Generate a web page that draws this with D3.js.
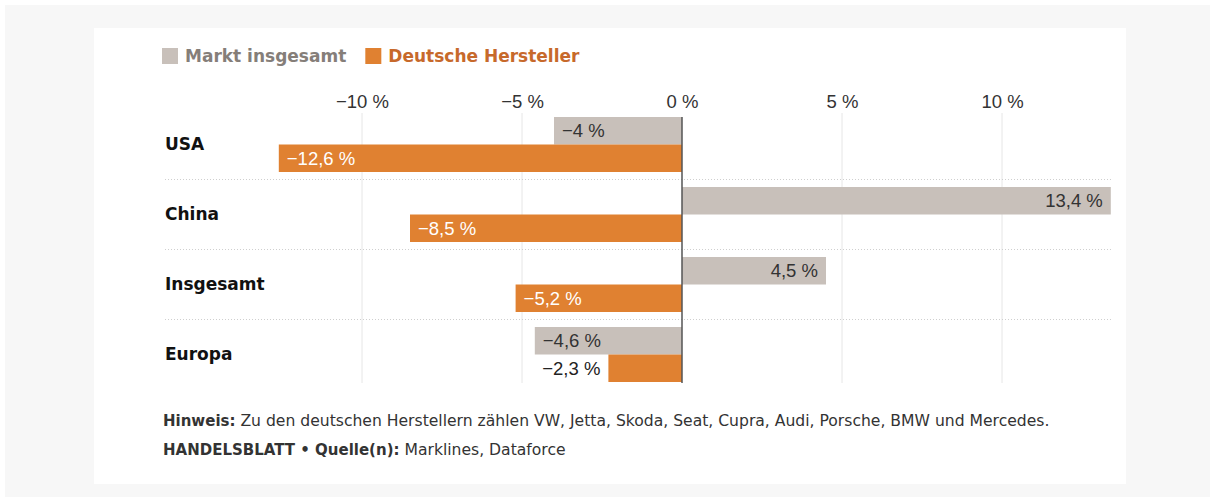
<!DOCTYPE html>
<html><head><meta charset="utf-8">
<script src="https://cdn.jsdelivr.net/npm/d3@7"></script>
<style>
html,body{margin:0;padding:0;background:#fff;}
</style></head>
<body>
<svg id="c" width="1210" height="497"></svg>
<script>
const categories = ["USA", "China", "Insgesamt", "Europa"];
const seriesNames = ["Markt insgesamt", "Deutsche Hersteller"];
const marktValues = [-4, 13.4, 4.5, -4.6];
const deutscheValues = [-12.6, -8.5, -5.2, -2.3];
const tickValues = [-10, -5, 0, 5, 10];
const tickLabels = ["\u221210 %", "\u22125 %", "0 %", "5 %", "10 %"];
const noteBold = "Hinweis:";
const noteText = " Zu den deutschen Herstellern zählen VW, Jetta, Skoda, Seat, Cupra, Audi, Porsche, BMW und Mercedes.";
const sourceBold = "HANDELSBLATT \u2022 Quelle(n):";
const sourceText = " Marklines, Dataforce";

const colors = ["#c8c0ba", "#e08131"];
const legendTextColors = ["#857e79", "#c7692b"];
const boldFont = "'DejaVu Sans', Verdana, sans-serif";
const regFont = "'Liberation Sans', Arial, sans-serif";

const fmt = v => (v < 0 ? "\u2212" : "") + String(Math.abs(v)).replace(".", ",") + " %";

const svg = d3.select("#c");
svg.append("rect").attr("x", 5).attr("y", 5).attr("width", 1205).attr("height", 492).attr("fill", "#f7f7f7");
svg.append("rect").attr("x", 94).attr("y", 28).attr("width", 1032).attr("height", 456).attr("fill", "#fff");

const allVals = marktValues.concat(deutscheValues);
const x = d3.scaleLinear().domain(d3.extent(allVals)).range([278.8, 1110.8]);
const y = d3.scaleBand().domain(categories).range([117, 382]).paddingInner(15/70).paddingOuter(0);
const ys = d3.scaleBand().domain(seriesNames).range([0, y.bandwidth()]);

// gridlines
svg.append("g").selectAll("line").data(tickValues.filter(t => t !== 0)).join("line")
  .attr("x1", d => x(d)).attr("x2", d => x(d))
  .attr("y1", 113).attr("y2", 383)
  .attr("stroke", "#e6e6e6").attr("stroke-width", 1);

// separators
const seps = categories.slice(1).map(c => y(c) - (y.step() - y.bandwidth()) / 2);
svg.append("g").selectAll("line").data(seps).join("line")
  .attr("x1", 165).attr("x2", 1111)
  .attr("y1", d => d).attr("y2", d => d)
  .attr("stroke", "#cfcfcf").attr("stroke-width", 1).attr("stroke-dasharray", "1,2");

// axis
const axis = d3.axisTop(x).tickValues(tickValues).tickFormat((d, i) => tickLabels[i]).tickSize(0).tickPadding(0);
const ag = svg.append("g").attr("transform", "translate(0,108)").call(axis);
ag.select(".domain").remove();
ag.selectAll("text").attr("font-size", 18.5).attr("fill", "#333").style("font-family", regFont);

// data rows
const rows = [];
categories.forEach((c, i) => {
  rows.push({cat: c, s: 0, v: marktValues[i]});
  rows.push({cat: c, s: 1, v: deutscheValues[i]});
});

svg.append("g").selectAll("rect").data(rows).join("rect")
  .attr("x", d => Math.min(x(0), x(d.v)))
  .attr("width", d => Math.abs(x(d.v) - x(0)))
  .attr("y", d => y(d.cat) + ys(seriesNames[d.s]))
  .attr("height", ys.bandwidth())
  .attr("fill", d => colors[d.s]);

// value labels
const pad = 8;
const lbl = svg.append("g").selectAll("text").data(rows).join("text")
  .attr("font-size", 18.5).style("font-family", regFont)
  .attr("dy", "0.35em")
  .attr("y", d => y(d.cat) + ys(seriesNames[d.s]) + ys.bandwidth() / 2)
  .text(d => fmt(d.v));
lbl.each(function(d) {
  const w = this.getComputedTextLength();
  const barW = Math.abs(x(d.v) - x(0));
  const inside = w + 3 * pad <= barW;
  const t = d3.select(this);
  const fill = d.s === 0 ? "#333" : (inside ? "#fff" : "#222");
  t.attr("fill", fill);
  if (d.v < 0) {
    if (inside) t.attr("x", x(d.v) + pad).attr("text-anchor", "start");
    else t.attr("x", x(d.v) - pad).attr("text-anchor", "end");
  } else {
    if (inside) t.attr("x", x(d.v) - pad).attr("text-anchor", "end");
    else t.attr("x", x(d.v) + pad).attr("text-anchor", "start");
  }
});

// zero line
svg.append("line").attr("x1", x(0)).attr("x2", x(0)).attr("y1", 117).attr("y2", 383)
  .attr("stroke", "#555").attr("stroke-width", 1.5);

// category labels
svg.append("g").selectAll("text").data(categories).join("text")
  .attr("x", 165).attr("y", d => y(d) + y.bandwidth() / 2).attr("dy", "0.35em")
  .attr("font-size", 17).attr("font-weight", "bold").attr("fill", "#111").style("font-family", boldFont)
  .text(d => d);

// legend
const leg = svg.append("g");
let lx = 162;
seriesNames.forEach((n, i) => {
  leg.append("rect").attr("x", lx).attr("y", 48).attr("width", 16).attr("height", 16).attr("fill", colors[i]);
  const t = leg.append("text").attr("x", lx + 23).attr("y", 56).attr("dy", "0.35em")
    .attr("font-size", 17).attr("font-weight", "bold").attr("fill", legendTextColors[i]).style("font-family", boldFont).text(n);
  lx += 23 + t.node().getComputedTextLength() + 19;
});

// footer
const f1 = svg.append("text").attr("x", 163).attr("y", 421).attr("dy", "0.35em").attr("font-size", 15).attr("fill", "#333").style("font-family", boldFont);
f1.append("tspan").attr("font-weight", "bold").text(noteBold);
f1.append("tspan").attr("font-size", 15.6).text(noteText);
const f2 = svg.append("text").attr("x", 163).attr("y", 450).attr("dy", "0.35em").attr("font-size", 15).attr("fill", "#333").style("font-family", boldFont);
f2.append("tspan").attr("font-weight", "bold").text(sourceBold);
f2.append("tspan").attr("font-size", 15.6).text(sourceText);
</script>
</body></html>
